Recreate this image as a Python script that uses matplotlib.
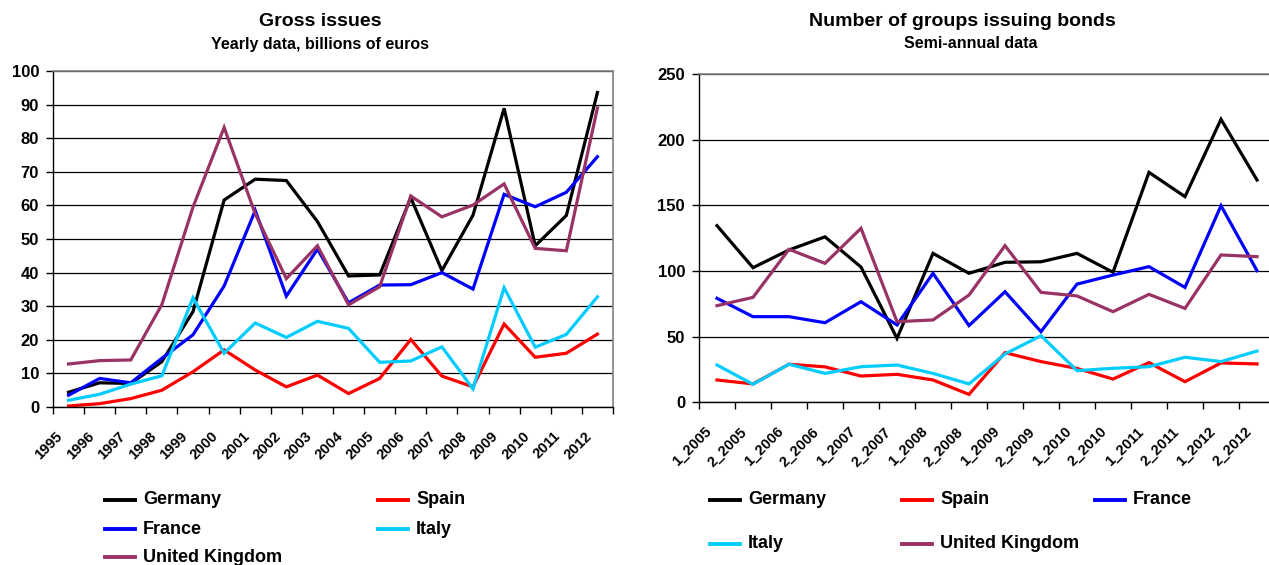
import matplotlib
matplotlib.use("Agg")
import matplotlib.pyplot as plt
from matplotlib.lines import Line2D
import numpy as np

plt.rcParams['font.family'] = ['Liberation Sans', 'DejaVu Sans']
plt.rcParams['font.weight'] = 'bold'

# ---------------- data: left chart (yearly, billions of euros) ----------------
years = ['1995', '1996', '1997', '1998', '1999', '2000', '2001', '2002', '2003',
         '2004', '2005', '2006', '2007', '2008', '2009', '2010', '2011', '2012']
gi_germany = [4.4, 7.2, 7.0, 13.5, 28.4, 61.6, 67.8, 67.4, 55.2, 39.0, 39.3, 62.3, 40.6, 57.1, 88.9, 48.0, 57.0, 93.6]
gi_spain = [0.3, 1.0, 2.5, 5.0, 10.5, 17.0, 11.0, 6.0, 9.5, 4.0, 8.5, 20.1, 9.2, 6.0, 24.7, 14.8, 16.0, 21.7]
gi_france = [3.5, 8.5, 7.2, 14.5, 21.5, 36.0, 58.5, 33.0, 47.0, 31.0, 36.3, 36.4, 40.0, 35.1, 63.3, 59.6, 63.9, 74.5]
gi_italy = [2.0, 3.8, 6.8, 9.3, 32.5, 16.0, 25.0, 20.7, 25.5, 23.4, 13.3, 13.7, 17.9, 5.4, 35.5, 17.8, 21.6, 32.8]
gi_uk = [12.8, 13.8, 14.0, 30.5, 59.5, 83.2, 57.5, 38.2, 48.0, 30.4, 35.8, 62.8, 56.6, 60.1, 66.4, 47.2, 46.5, 89.0]

# ---------------- data: right chart (semi-annual, number of groups) ----------------
semesters = ['1_2005', '2_2005', '1_2006', '2_2006', '1_2007', '2_2007', '1_2008', '2_2008',
             '1_2009', '2_2009', '1_2010', '2_2010', '1_2011', '2_2011', '1_2012', '2_2012']
ng_germany = [134.5, 102.5, 116, 126, 103, 48.7, 113.4, 98.2, 106.6, 107, 113.4, 99, 175.1, 156.6, 215.5, 169.3]
ng_spain = [17, 14, 29, 27, 20, 21.3, 17, 6, 37.8, 31, 25.8, 17.7, 30.2, 15.7, 30, 29.2]
ng_france = [79.2, 65.2, 65.2, 60.6, 76.6, 58.9, 98.2, 58.4, 84.2, 53.8, 90, 96.9, 103.3, 87.5, 149.7, 100.2]
ng_italy = [28.4, 13.7, 29, 22, 27.1, 28.4, 22, 14, 36.8, 50.7, 24.1, 25.9, 27.1, 34.3, 31, 39]
ng_uk = [73.6, 79.9, 116.5, 105.8, 132.5, 61.4, 62.7, 81.7, 119.3, 83.7, 81, 69, 82.2, 71.5, 112.2, 110.9]

names = ['Germany', 'Spain', 'France', 'Italy', 'United Kingdom']
colors = {'Germany': '#000000', 'Spain': '#FF0000', 'France': '#0000FF',
          'Italy': '#00CCFF', 'United Kingdom': '#993366'}

W, H = 1269, 565
fig = plt.figure(figsize=(W / 100, H / 100), dpi=100)


def px_axes(x0, x1, ytop, ybot):
    return fig.add_axes([x0 / W, (H - ybot) / H, (x1 - x0) / W, (ybot - ytop) / H])


def style_axes(ax, labels, ymax, ystep, width_px):
    n = len(labels)
    x = np.arange(n)
    shift = 3.0 / (width_px / n)   # labels sit a few pixels left of category centre
    ax.set_xlim(-0.5, n - 0.5)
    ax.set_ylim(0, ymax)
    ax.set_yticks(np.arange(0, ymax + 1, ystep))
    ax.yaxis.grid(True, color='#000000', linewidth=0.9)
    ax.set_axisbelow(True)
    ax.set_xticks(x - shift)
    ax.set_xticklabels(labels, rotation=45, ha='right', va='top',
                       fontsize=10.5, fontweight='bold')
    ax.tick_params(axis='x', which='major', length=0, pad=16)
    ax.set_xticks(np.arange(-0.5, n, 1.0), minor=True)
    ax.tick_params(axis='x', which='minor', length=5, width=1, color='#000000')
    ax.tick_params(axis='y', length=5, width=1, pad=5, labelsize=12)
    for lab in ax.get_yticklabels():
        lab.set_fontweight('bold')
    for s in ['top', 'right']:
        ax.spines[s].set_color('#808080')
        ax.spines[s].set_linewidth(1.2)
    for s in ['left', 'bottom']:
        ax.spines[s].set_color('#000000')
        ax.spines[s].set_linewidth(1.0)


# ---------------- left chart ----------------
axL = px_axes(53, 613, 71, 407)
left_series = {'Germany': gi_germany, 'Spain': gi_spain, 'France': gi_france,
               'Italy': gi_italy, 'United Kingdom': gi_uk}
for nm in names:
    axL.plot(np.arange(len(years)), left_series[nm], color=colors[nm], lw=2.3,
             solid_joinstyle='miter')
style_axes(axL, years, 100, 10, 560)
fig.text(320 / W, 1 - 21 / H, 'Gross issues', ha='center', va='center',
         fontsize=14, fontweight='bold')
fig.text(320 / W, 1 - 44 / H, 'Yearly data, billions of euros', ha='center', va='center',
         fontsize=11.5, fontweight='bold')

# ---------------- right chart ----------------
axR = px_axes(699, 1275, 74, 402.3)
right_series = {'Germany': ng_germany, 'Spain': ng_spain, 'France': ng_france,
                'Italy': ng_italy, 'United Kingdom': ng_uk}
for nm in names:
    axR.plot(np.arange(len(semesters)), right_series[nm], color=colors[nm], lw=2.3,
             solid_joinstyle='miter')
style_axes(axR, semesters, 250, 50, 576)
fig.text(962 / W, 1 - 21 / H, 'Number of groups issuing bonds', ha='center', va='center',
         fontsize=14, fontweight='bold')
fig.text(971 / W, 1 - 44 / H, 'Semi-annual data', ha='center', va='center',
         fontsize=11.5, fontweight='bold')


# ---------------- legends (Excel-style fixed grid) ----------------
def legend_entry(x, y, nm):
    fig.add_artist(Line2D([x / W, (x + 30) / W], [1 - y / H, 1 - y / H],
                          color=colors[nm], lw=2.8, transform=fig.transFigure))
    fig.text((x + 38) / W, 1 - y / H, nm, ha='left', va='center',
             fontsize=13, fontweight='bold')


left_layout = [('Germany', 105, 500), ('Spain', 378, 500), ('France', 105, 529),
               ('Italy', 378, 529), ('United Kingdom', 105, 557)]
for nm, x, y in left_layout:
    legend_entry(x, y, nm)

right_layout = [('Germany', 710, 500), ('Spain', 902, 500), ('France', 1095, 500),
                ('Italy', 710, 544), ('United Kingdom', 902, 544)]
for nm, x, y in right_layout:
    legend_entry(x, y, nm)

fig.savefig('out.png', dpi=100)
